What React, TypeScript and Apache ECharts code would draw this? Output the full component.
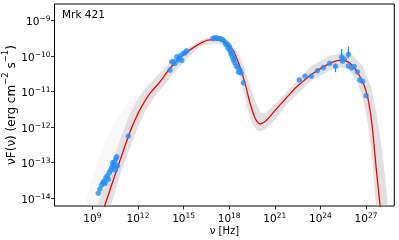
import React, { useEffect, useRef } from "react";
import * as echarts from "echarts";

// log10(nu [Hz]), log10(nuFnu [erg cm^-2 s^-1])
const modelCurve: [number, number][] = [
  [9.6, -14.48], [9.83, -14.19], [10.6, -13.21], [11.36, -12.27], [11.8, -11.8],
  [12.24, -11.42], [12.79, -11.05], [13.45, -10.72], [14.11, -10.34], [14.98, -9.97],
  [16.09, -9.64], [16.75, -9.54], [17.26, -9.54], [17.72, -9.62], [18.25, -9.83],
  [18.71, -10.3], [19.04, -10.76], [19.37, -11.32], [19.7, -11.74], [20.03, -11.91],
  [20.47, -11.8], [21.13, -11.47], [22.0, -11.06], [22.44, -10.86], [23.53, -10.48],
  [24.63, -10.2], [25.4, -10.11], [25.95, -10.2], [26.61, -10.58], [27.05, -11.05],
  [27.38, -11.88], [27.7, -13.29], [27.92, -14.19], [28.0, -14.52],
];

const bandUpper: [number, number][] = [
  [9.24, -14.3], [10.16, -13.21], [10.82, -12.36], [11.34, -11.74], [11.87, -11.28],
  [12.53, -10.88], [13.32, -10.52], [14.11, -10.18], [14.96, -9.87], [16.08, -9.56],
  [16.87, -9.44], [17.53, -9.47], [18.05, -9.62], [18.58, -9.9], [18.97, -10.3],
  [19.37, -10.83], [19.7, -11.25], [20.03, -11.58], [20.36, -11.61], [21.01, -11.36],
  [22.0, -10.92], [23.32, -10.3], [24.63, -9.99], [25.42, -9.9], [26.08, -9.96],
  [26.8, -10.3], [27.33, -10.86], [27.72, -11.68], [28.05, -12.64], [28.31, -13.63],
  [28.45, -14.3],
];

const bandLower: [number, number][] = [
  [10.16, -14.3], [10.82, -13.35], [11.47, -12.6], [12.0, -11.98], [12.53, -11.5],
  [13.12, -11.12], [13.78, -10.8], [14.43, -10.44], [15.22, -10.08], [16.08, -9.72],
  [16.87, -9.64], [17.39, -9.65], [17.79, -9.73], [18.18, -9.96], [18.58, -10.37],
  [18.91, -10.93], [19.17, -11.44], [19.5, -11.9], [19.89, -12.12], [20.36, -12.07],
  [21.01, -11.78], [22.0, -11.27], [23.32, -10.71], [24.63, -10.4], [25.42, -10.31],
  [25.88, -10.4], [26.41, -10.71], [26.8, -11.21], [27.13, -11.92], [27.4, -12.92],
  [27.66, -14.3],
];

const fanUpper: [number, number][] = [
  [8.45, -14.3], [8.97, -13.49], [9.63, -12.64], [10.49, -11.8], [11.47, -11.23], [12.53, -10.88],
];

const dataPoints: [number, number][] = [
  // radio
  [9.39, -13.86], [9.5, -13.74], [9.61, -13.63], [9.7, -13.57], [9.76, -13.52],
  [9.83, -13.58], [9.89, -13.43], [9.98, -13.37], [10.05, -13.47], [10.11, -13.28],
  [10.2, -13.21], [10.29, -13.13], [10.38, -13.06], [10.34, -13.0], [10.47, -12.97],
  [10.42, -13.11], [10.51, -13.21], [10.55, -12.88], [10.6, -12.83], [10.64, -13.09],
  [11.36, -12.25],
  // optical / UV
  [14.11, -10.39], [14.22, -10.16], [14.32, -10.15], [14.43, -10.2], [14.55, -10.02],
  [14.65, -10.11], [14.72, -10.06], [14.76, -9.99], [14.88, -10.12], [14.98, -9.92],
  [15.09, -9.91], [15.2, -9.85],
  // X-ray
  [16.93, -9.5], [17.07, -9.48], [17.2, -9.49], [17.33, -9.5], [17.46, -9.52],
  [17.59, -9.54], [17.72, -9.6], [17.79, -9.68], [17.89, -9.66], [17.92, -9.77],
  [18.02, -9.74], [18.05, -9.85], [18.12, -9.94], [18.18, -9.88], [18.22, -10.02],
  [18.28, -10.11], [18.35, -10.06], [18.38, -10.19], [18.48, -10.28], [18.58, -10.33],
  [18.61, -10.45], [18.71, -10.39], [18.78, -10.47], [18.93, -10.75],
  // gamma-ray
  [22.61, -10.67], [22.99, -10.56], [23.4, -10.56], [23.81, -10.41], [24.2, -10.32],
  [24.61, -10.2], [24.99, -10.28], [25.4, -10.03], [25.45, -10.14], [25.57, -10.08],
  [25.84, -9.95], [25.84, -10.27], [26.06, -10.33], [26.22, -10.29], [26.43, -10.44],
  [26.59, -10.67], [26.78, -10.71], [27.0, -11.11],
];

// [log nu, low, high]
const errorBars: [number, number, number][] = [
  [24.99, -10.45, -10.22],
  [25.4, -10.15, -9.8],
  [25.84, -10.05, -9.73],
];

const xTicks = [9, 12, 15, 18, 21, 24, 27];
const yTicks = [-14, -13, -12, -11, -10, -9];

const FONT = "DejaVu Sans";

export default function App() {
  const ref = useRef<HTMLDivElement>(null);
  useEffect(() => {
    if (!ref.current) return;
    const chart = echarts.init(ref.current, null, { renderer: "svg" });
    const polyItem = (upper: [number, number][], lower: [number, number][], fill: string) =>
      (params: any, api: any) => {
        const pts = [...upper, ...lower.slice().reverse()].map((p) => api.coord(p));
        return {
          type: "polygon",
          shape: { points: pts },
          style: { fill, stroke: "none" },
        };
      };
    const rich = {
      a: { fontSize: 10.5, fontFamily: FONT, color: "#000", lineHeight: 12, verticalAlign: "bottom" },
      b: { fontSize: 7.5, fontFamily: FONT, color: "#000", lineHeight: 12, verticalAlign: "top" },
    };
    chart.setOption({
      animation: false,
      graphic: [
        {
          type: "text",
          left: 62,
          top: 8,
          style: { text: "Mrk 421", fontSize: 10.5, fontFamily: FONT, fill: "#000" },
          z: 10,
        },
      ],
      grid: {
        left: 54.5,
        right: 4.7,
        top: 4,
        bottom: 34,
        containLabel: false,
        outerBoundsMode: "none",
        show: true,
        borderColor: "#000",
        borderWidth: 1,
        backgroundColor: "transparent",
      },
      xAxis: {
        type: "value",
        min: 6.51,
        max: 28.86,
        splitLine: { show: false },
        axisLine: { show: false },
        axisTick: { show: true, customValues: xTicks, length: 3.5, lineStyle: { color: "#000", width: 0.8 } },
        axisLabel: {
          customValues: xTicks,
          margin: 5,
          formatter: (v: number) => `{a|10}{b|${Math.round(v)}}`,
          rich,
        },
        name: "ν [Hz]",
        nameLocation: "middle",
        nameGap: 19.5,
        nameMoveOverlap: false,
        nameTextStyle: { fontSize: 10, fontFamily: FONT, color: "#000" },
      },
      yAxis: {
        type: "value",
        min: -14.22,
        max: -8.53,
        splitLine: { show: false },
        axisLine: { show: false },
        axisTick: { show: true, customValues: yTicks, length: 3.5, lineStyle: { color: "#000", width: 0.8 } },
        axisLabel: {
          customValues: yTicks,
          margin: 4,
          formatter: (v: number) => `{a|10}{b|−${Math.round(-v)}}`,
          rich,
        },
        name: "{a|νF(ν) (erg cm}{b|−2}{a| s}{b|−1}{a|)}",
        nameLocation: "middle",
        nameGap: 38,
        nameMoveOverlap: false,
        nameTextStyle: {
          fontFamily: FONT,
          color: "#000",
          rich: {
            a: { fontSize: 12, fontFamily: FONT, color: "#000", lineHeight: 16, verticalAlign: "bottom" },
            b: { fontSize: 8.5, fontFamily: FONT, color: "#000", lineHeight: 16, verticalAlign: "top" },
          },
        },
      },
      series: [
        {
          type: "custom",
          clip: true,
          data: [[0, 0]],
          renderItem: polyItem(fanUpper, bandUpper.slice(0, 6), "rgba(200,200,200,0.12)"),
          silent: true,
          z: 1,
        },
        {
          type: "custom",
          clip: true,
          data: [[0, 0]],
          renderItem: polyItem(bandUpper, bandLower, "rgba(180,180,180,0.4)"),
          silent: true,
          z: 2,
        },
        {
          type: "line",
          data: modelCurve,
          showSymbol: false,
          smooth: 0.25,
          clip: true,
          lineStyle: { color: "#ff0000", width: 1.3 },
          z: 3,
        },
        {
          type: "custom",
          clip: true,
          data: errorBars,
          renderItem: (params: any, api: any) => {
            const x = api.value(0);
            const p1 = api.coord([x, api.value(1)]);
            const p2 = api.coord([x, api.value(2)]);
            return {
              type: "line",
              shape: { x1: p1[0], y1: p1[1], x2: p2[0], y2: p2[1] },
              style: { stroke: "#1E90FF", lineWidth: 1.3 },
            };
          },
          z: 4,
        },
        {
          type: "scatter",
          data: dataPoints,
          symbol: "circle",
          symbolSize: 5.5,
          itemStyle: { color: "#1E90FF" },
          z: 5,
        },
      ],
    });
    return () => chart.dispose();
  }, []);
  return (
    <div
      ref={ref}
      style={{ position: "fixed", left: 0, top: 0, width: 399, height: 240 }}
    />
  );
}
